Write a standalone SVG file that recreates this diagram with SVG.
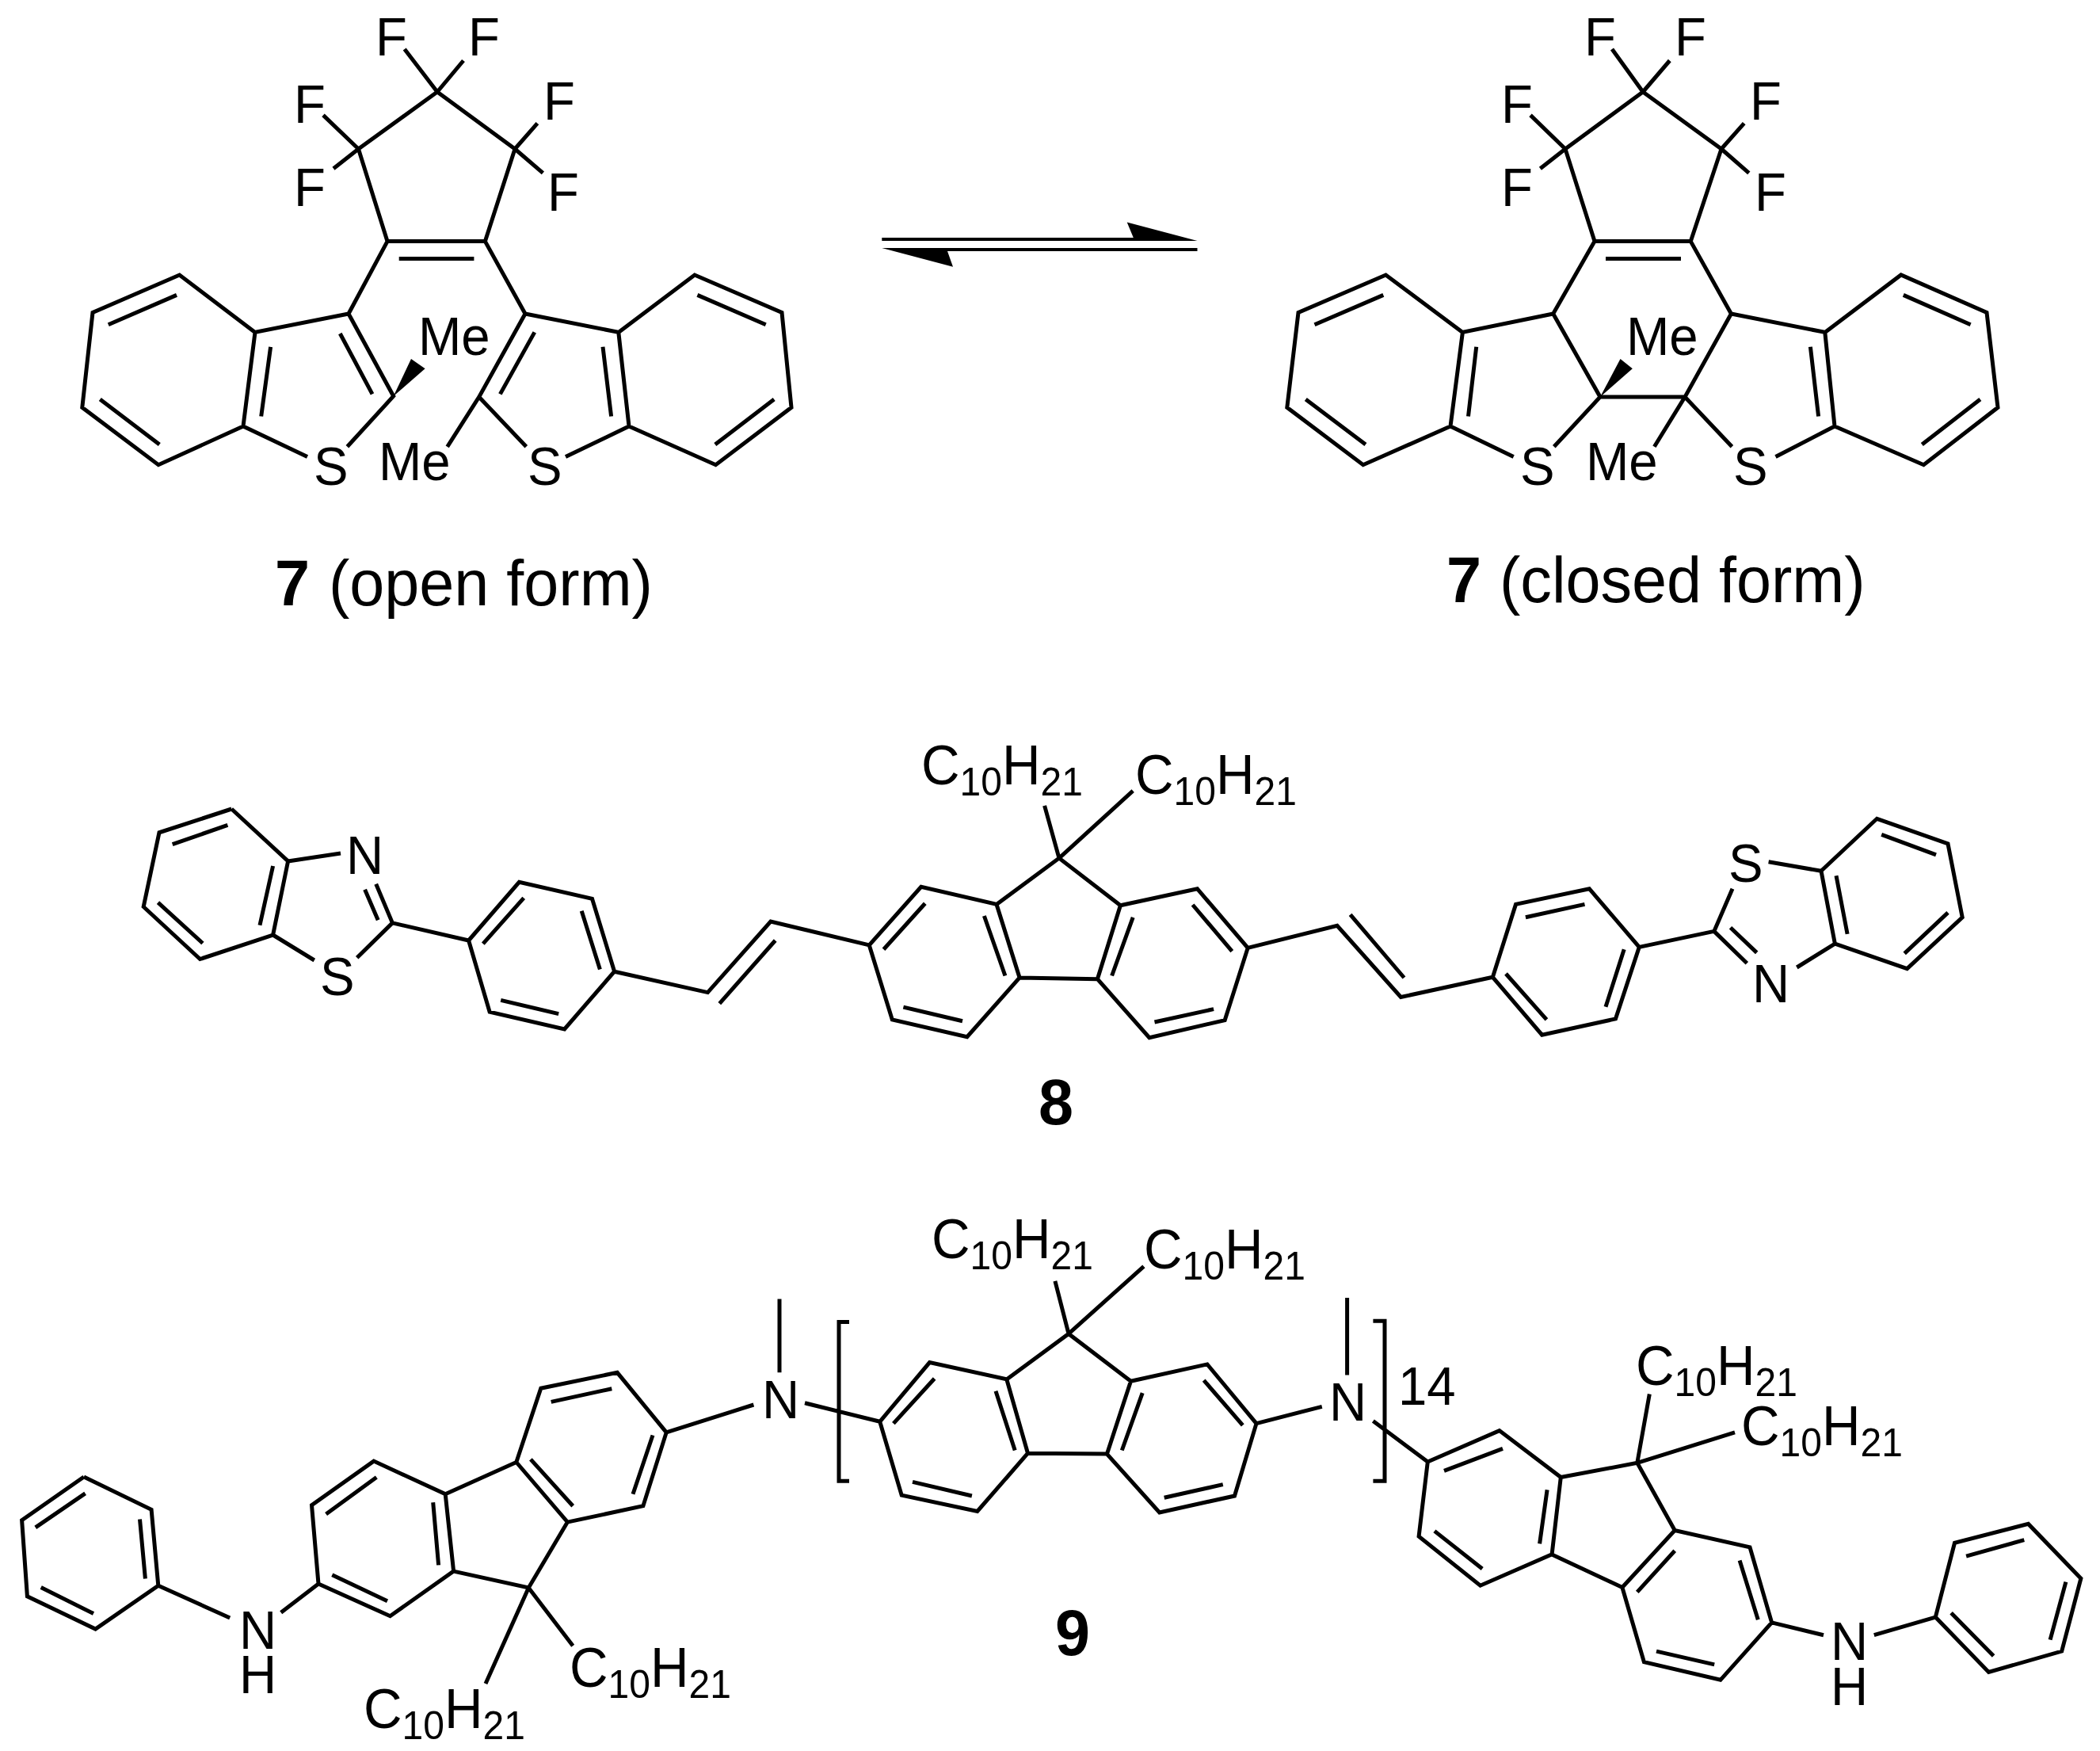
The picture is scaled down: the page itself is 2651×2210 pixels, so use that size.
<svg xmlns="http://www.w3.org/2000/svg" width="2651" height="2210" viewBox="0 0 2651 2210">
<style>
.b{fill:none;stroke:#000;stroke-width:5;stroke-linejoin:miter;stroke-linecap:butt}
.w{fill:#000;stroke:none}
text{font-family:"Liberation Sans",Arial,sans-serif;fill:#000}
.a{font-size:68px}
.f{font-size:70px}
.s{font-size:50px}
.c{font-size:82px}
.n{font-size:82px;font-weight:bold}
</style>
<rect width="2651" height="2210" fill="#fff"/>
<g id="connectors">
<g id="bonds-7-open">
<path class="b" d="M552 116L452.500 188L489 304.600L612.400 304.600L650 188L552 116 M503.700 326.500L598.400 326.500 M552 116L510.700 62 M552 116L585 76.500 M452.500 188L408 145.400 M452.500 188L421 212.800 M650 188L678.400 155.600 M650 188L685.400 218.400 M489 304.600L440 396 M612.400 304.600L663 396 M440 396L322 419.400L307 538L388 576.500 M438.400 563.800L496.700 500L440 396 M429.300 421L470 497.400 M341.600 437.800L329.700 525.500 M322 419.400L226.600 347L117 394.400L103.800 514.300L200 586.700L307 538 M223 372.400L136.800 409.700 M126.300 504L201.300 561 M663 396L780.800 419.400L794 538L714 576.500 M664.300 563.800L604.700 501L663 396 M674.800 419.400L631.400 497.400 M761 437.800L771.600 525.500 M780.800 419.400L876.900 347L987 394.400L999 514.300L903.500 586.700L794 538 M880.400 372.400L966.700 409.700 M977.200 504L902.800 561 M604.700 501L564.700 563.800"/>
<polygon class="w" points="496.700,500 519,453 536.600,465.300"/>
</g>
<g id="equilibrium-arrow">
<polygon class="w" points="1113.300,300 1430.800,300 1422.700,280.600 1511.500,304 1113.300,304"/>
<polygon class="w" points="1113.300,313 1511.500,313 1511.500,317 1196,317 1203,336.700"/>
</g>
<g id="bonds-7-closed">
<path class="b" d="M2074 116L1976 188L2013 304.600L2134.300 304.600L2173 188L2074 116 M2027 326.500L2122 326.500 M2074 116L2035 62 M2074 116L2107.800 76.500 M1976 188L1932 145.400 M1976 188L1944.400 212.800 M2173 188L2201.700 155.600 M2173 188L2207.800 218.400 M2013 304.600L1960.700 396 M2134.300 304.600L2185.400 396 M1960.700 396L1846.400 419.400L1831 538L1910.700 576.500 M1961.800 563.800L2020 501L1960.700 396 M2020 501L2127 501 M2185.400 396L2303.800 419.400L2316 538L2241.500 576.500 M2186.400 563.800L2127 501L2185.400 396 M1863.700 437.800L1853.500 525.500 M2285.400 437.800L2295.600 525.500 M1846.400 419.400L1749.400 347L1639 394.400L1624.800 514.300L1720.800 586.700L1831 538 M1746.300 372.400L1659.500 409.700 M1648.300 504L1723.900 561 M2303.800 419.400L2399.800 347L2508 394.400L2522 514.300L2428.400 586.700L2316 538 M2402.800 372.400L2487.600 409.700 M2499.800 504L2426.300 561 M2127 501L2088.400 563.800"/>
<polygon class="w" points="2020,501 2045.500,453 2060.800,465.300"/>
</g>
<g id="bonds-8">
<path class="b" d="M292.300 1021L201 1050.800L181.200 1144.500L252.500 1210.500L344.600 1180L363.600 1087L292.300 1021 M287.400 1041.400L217.700 1065.600 M199.500 1139.200L255.900 1190.500 M344.600 1093L328 1167.700 M363.600 1087L430 1077 M344.600 1180L396.800 1212 M495.400 1164.900L474.700 1115.700 M477.200 1161.300L460.600 1122.800 M495.400 1164.900L450.700 1208.700 M495.400 1164.900L591.600 1187 M591.600 1187L655.400 1113.300L747.500 1134.300L775.600 1226.200L712.600 1298.900L618.100 1277.100L591.600 1187 M661.200 1133.300L609.800 1191.200 M734.200 1149.800L757.400 1223.400 M705.200 1279.600L632.200 1262.400 M775.600 1226.200L893.400 1252.600L972.900 1163.100L1097.300 1192.900 M908.300 1266.600L978.700 1187 M1097.300 1192.900L1162.800 1119.300L1258 1141.400L1287.100 1234L1220.800 1308.700L1126.300 1286.900L1097.300 1192.900 M1167.800 1140.300L1115.500 1198.200 M1242.400 1156L1268.900 1231.500 M1215 1288.700L1140.400 1271.100 M1258 1141.400L1337 1083.100L1414.400 1142.800 M1337 1083.100L1318.600 1016.800 M1337 1083.100L1430.200 998.200 M1414.400 1142.800L1511.400 1121.700L1575.200 1196.400L1546.200 1287.600L1450.900 1309.700L1385.400 1235.700L1414.400 1142.800 M1287.100 1234L1385.400 1235.700 M1505.600 1142L1555.300 1200.600 M1430.200 1157.800L1403.600 1231.500 M1532.100 1273.600L1457.500 1290 M1575.200 1196.400L1688 1168.400L1768.400 1258.500L1884.400 1233.300 M1704.600 1154.300L1772.500 1234 M1884.400 1233.300L1913.500 1141.400L2006.300 1121.700L2069.300 1195.400L2039.500 1285.900L1946.600 1306.200L1884.400 1233.300 M2000.500 1141.400L1925.900 1157.800 M2050.200 1198.200L2027 1270.800 M1952.400 1286.900L1901 1229 M2069.300 1195.400L2163.800 1175.400 M2163.800 1175.400L2187 1121.700 M2163.800 1175.400L2205.300 1215.700 M2184.500 1170.800L2217.700 1202.400 M2232.600 1087.700L2299 1099.300 M2268.300 1221L2316.400 1191.200 M2299 1099.300L2369.400 1033.300L2459 1064.900L2477.200 1157.800L2407.500 1222.700L2316.400 1191.200L2299 1099.300 M2375.200 1053.300L2444 1078.900 M2459 1151.900L2404.200 1203.400 M2318 1105.200L2332.100 1178.900"/>
</g>
<g id="bonds-9">
<path class="b" d="M105.900 1864L191.100 1905.300L199.800 2001.300L120.500 2056L34.400 2014.800L27.600 1918.800L105.900 1864 M107.600 1884.900L44.800 1927.900 M176.500 1917.500L183.400 1992.600 M118 2036.600L51.700 2003.500 M199.800 2001.300L290.200 2042 M354.700 2035.200L402 1999 M402 1999L393.500 1899.800L471.800 1844.100L562.200 1885.800L572.600 1983.100L492.500 2039.700L402 1999 M411.600 1911.100L475.300 1864.500 M546.700 1896.200L553.600 1975.400 M489 2020.700L419.300 1987.700 M572.600 1983.100L667.300 2004L716.400 1921.100 M562.200 1885.800L651.800 1845.500 M651.800 1845.500L682.800 1752.200L779.200 1732.300L841.200 1807.900L811.900 1900.700L716.400 1921.100L651.800 1845.500 M695.700 1769.400L772.300 1752.700 M824 1811.500L799 1885.800 M723.200 1900.700L669.900 1841.900 M667.300 2004L613 2124.900 M667.300 2004L723.200 2077.300 M841.200 1807.900L951.400 1773 M984 1639.500L984 1732.300 M1016 1770.800L1110.700 1794.300 M1110.700 1794.300L1173.500 1719.600L1270.800 1740.900L1297.500 1834.200L1233.800 1907.500L1138.200 1887.100L1110.700 1794.300 M1179.600 1740L1127.900 1796.600 M1257 1755.800L1281.200 1830.500 M1226.900 1888L1152 1870.400 M1270.800 1740.900L1349 1683.400L1427.500 1743.200 M1427.500 1743.200L1524 1721.900L1586 1796.600L1558.500 1888L1463.700 1908.900L1397.400 1835.100L1427.500 1743.200 M1297.500 1834.200L1397.400 1835.100 M1519.700 1742.200L1568.800 1798.800 M1442.200 1758.100L1416.300 1830.500 M1543.800 1873.600L1469.700 1890.300 M1349 1683.400L1331.900 1616.800 M1349 1683.400L1443.900 1598.300 M1586 1796.600L1668.800 1775.300 M1700.600 1638.100L1700.600 1735.500 M1072 1668.600L1059 1668.600L1059 1869.300L1072 1869.300 M1733.400 1667.300L1748 1667.300L1748 1869.300L1733.400 1869.300 M1733.400 1793.400L1802.300 1845 M1802.300 1845L1892.800 1805.600L1970.300 1864.500L1959.100 1961.900L1868.700 2001.200L1791.100 1939.200L1802.300 1845 M1897 1828.300L1823 1856.300 M1953.100 1880.400L1943.600 1948.300 M1871.200 1980L1810.900 1932.400 M1970.300 1864.500L2066.800 1846.400L2114.200 1931.500 M1959.100 1961.900L2047.900 2003.500 M2047.900 2003.500L2075.400 2097.700L2171.900 2120.300L2236.600 2047.900L2209 1952.800L2114.200 1931.500L2047.900 2003.500 M2066.800 2009.400L2114.200 1957.300 M2196.100 1969.600L2219.300 2044.300 M2164.200 2100.900L2091 2084.100 M2066.800 1846.400L2082.300 1759.500 M2066.800 1846.400L2190 1807.900 M2236.600 2047.900L2302 2063.700 M2365.800 2063.700L2443.300 2041.100 M2443.300 2041.100L2467.500 1947.400L2560.500 1923.400L2626.900 1992.200L2602.700 2084.100L2510.500 2110.400L2443.300 2041.100 M2555.300 1943.700L2482.100 1964.100 M2607.900 1996.700L2588.100 2069.600 M2516.600 2090L2463.100 2035.700"/>
</g>
</g>
<g id="labels-7-open">
<g id="o-f1"><text class="a" transform="translate(474 70) scale(.96 1)">F</text></g>
<g id="o-f2"><text class="a" transform="translate(591 70) scale(.96 1)">F</text></g>
<g id="o-f3"><text class="a" transform="translate(371 154.600) scale(.96 1)">F</text></g>
<g id="o-f4"><text class="a" transform="translate(371 260) scale(.96 1)">F</text></g>
<g id="o-f5"><text class="a" transform="translate(686 151) scale(.96 1)">F</text></g>
<g id="o-f6"><text class="a" transform="translate(691 266) scale(.96 1)">F</text></g>
<g id="o-me1"><text class="a" transform="translate(528 448) scale(.96 1)">Me</text></g>
<g id="o-me2"><text class="a" transform="translate(478 606) scale(.96 1)">Me</text></g>
<g id="o-s1"><text class="a" transform="translate(396 612) scale(.96 1)">S</text></g>
<g id="o-s2"><text class="a" transform="translate(666 612) scale(.96 1)">S</text></g>
<g id="caption-7-open"><text class="n" transform="translate(347 764) scale(.965 1)">7</text><text class="c" transform="translate(415 764) scale(.965 1)">(open form)</text></g>
</g>
<g id="labels-7-closed">
<g id="c-f1"><text class="a" transform="translate(2000 70) scale(.96 1)">F</text></g>
<g id="c-f2"><text class="a" transform="translate(2114 70) scale(.96 1)">F</text></g>
<g id="c-f3"><text class="a" transform="translate(1895 154.600) scale(.96 1)">F</text></g>
<g id="c-f4"><text class="a" transform="translate(1895 260) scale(.96 1)">F</text></g>
<g id="c-f5"><text class="a" transform="translate(2209 151) scale(.96 1)">F</text></g>
<g id="c-f6"><text class="a" transform="translate(2215 266) scale(.96 1)">F</text></g>
<g id="c-me1"><text class="a" transform="translate(2053 448) scale(.96 1)">Me</text></g>
<g id="c-me2"><text class="a" transform="translate(2002 606) scale(.96 1)">Me</text></g>
<g id="c-s1"><text class="a" transform="translate(1919 612) scale(.96 1)">S</text></g>
<g id="c-s2"><text class="a" transform="translate(2188 612) scale(.96 1)">S</text></g>
<g id="caption-7-closed"><text class="n" transform="translate(1826 760) scale(.965 1)">7</text><text class="c" transform="translate(1893 760) scale(.965 1)">(closed form)</text></g>
</g>
<g id="labels-8">
<g id="e-n1"><text class="a" transform="translate(437 1102.800) scale(.96 1)">N</text></g>
<g id="e-s1"><text class="a" transform="translate(404 1256) scale(.96 1)">S</text></g>
<g id="e-n2"><text class="a" transform="translate(2212 1264.800) scale(.96 1)">N</text></g>
<g id="e-s2"><text class="a" transform="translate(2182 1113.300) scale(.96 1)">S</text></g>
<g id="e-r1"><text class="f" transform="translate(1163 989.500) scale(.96 1)">C<tspan class="s" dy="14">10</tspan><tspan dy="-14">H</tspan><tspan class="s" dy="14">21</tspan></text></g>
<g id="e-r2"><text class="f" transform="translate(1433 1001.700) scale(.96 1)">C<tspan class="s" dy="14">10</tspan><tspan dy="-14">H</tspan><tspan class="s" dy="14">21</tspan></text></g>
<g id="caption-8"><text class="n" transform="translate(1311 1418.500) scale(.965 1)">8</text></g>
</g>
<g id="labels-9">
<g id="n-nh1"><text class="a" transform="translate(302 2080.500) scale(.96 1)">N<tspan x="0" dy="56.500">H</tspan></text></g>
<g id="n-n2"><text class="a" transform="translate(962 1789.800) scale(.96 1)">N</text></g>
<g id="n-n3"><text class="a" transform="translate(1678 1793.400) scale(.96 1)">N</text></g>
<g id="n-nh2"><text class="a" transform="translate(2311 2095.400) scale(.96 1)">N<tspan x="0" dy="56.500">H</tspan></text></g>
<g id="n-14"><text class="a" transform="translate(1765 1773) scale(.96 1)">14</text></g>
<g id="n-r1"><text class="f" transform="translate(459 2180.600) scale(.96 1)">C<tspan class="s" dy="14">10</tspan><tspan dy="-14">H</tspan><tspan class="s" dy="14">21</tspan></text></g>
<g id="n-r2"><text class="f" transform="translate(719 2128.500) scale(.96 1)">C<tspan class="s" dy="14">10</tspan><tspan dy="-14">H</tspan><tspan class="s" dy="14">21</tspan></text></g>
<g id="n-r3"><text class="f" transform="translate(1176 1588.300) scale(.96 1)">C<tspan class="s" dy="14">10</tspan><tspan dy="-14">H</tspan><tspan class="s" dy="14">21</tspan></text></g>
<g id="n-r4"><text class="f" transform="translate(1444 1600.500) scale(.96 1)">C<tspan class="s" dy="14">10</tspan><tspan dy="-14">H</tspan><tspan class="s" dy="14">21</tspan></text></g>
<g id="n-r5"><text class="f" transform="translate(2065 1748) scale(.96 1)">C<tspan class="s" dy="14">10</tspan><tspan dy="-14">H</tspan><tspan class="s" dy="14">21</tspan></text></g>
<g id="n-r6"><text class="f" transform="translate(2198 1823.800) scale(.96 1)">C<tspan class="s" dy="14">10</tspan><tspan dy="-14">H</tspan><tspan class="s" dy="14">21</tspan></text></g>
<g id="caption-9"><text class="n" transform="translate(1332 2088.600) scale(.965 1)">9</text></g>
</g>
</svg>
